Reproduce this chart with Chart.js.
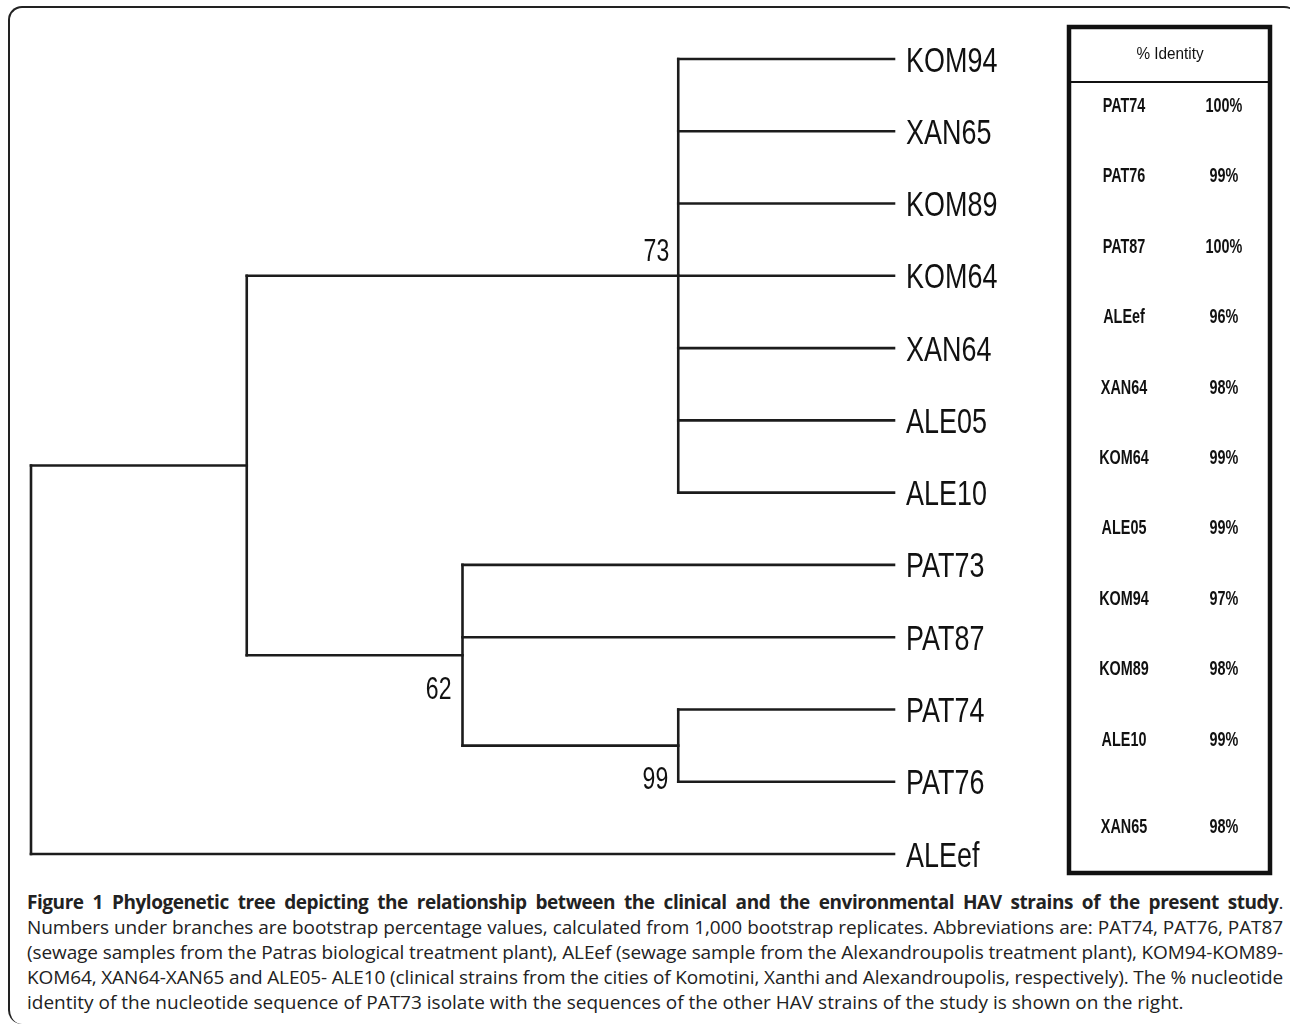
<!DOCTYPE html>
<html>
<head>
<meta charset="utf-8">
<script src="https://cdn.jsdelivr.net/npm/chart.js@4/dist/chart.umd.min.js"></script>
<style>
  body { margin: 0; background: #fff; width: 1290px; height: 1028px; overflow: hidden; position: relative; }
  #frame { position: absolute; left: 8px; top: 6px; width: 1290px; height: 1018px; border-top: 2px solid #222; border-left: 2px solid #222; border-radius: 14px; box-sizing: border-box; }
  #tree { position: absolute; left: 0; top: 0; }
  #caption { position: absolute; left: 27px; top: 890px; width: 1256px; font-family: "Open Sans", sans-serif; font-size: 19px; line-height: 25px; color: #222; }
  #caption div { text-align: justify; text-align-last: justify; white-space: nowrap; }
  #caption div.first { letter-spacing: -0.45px; }
  #caption div.tight { word-spacing: -3px; letter-spacing: -0.1px; }
  #caption div.last { text-align-last: left; }
</style>
</head>
<body>
<div id="frame"></div>
<canvas id="tree" width="1290" height="880"></canvas>
<div id="caption">
  <div class="first"><b>Figure 1 Phylogenetic tree depicting the relationship between the clinical and the environmental HAV strains of the present study</b>.</div>
  <div class="tight">Numbers under branches are bootstrap percentage values, calculated from 1,000 bootstrap replicates. Abbreviations are: PAT74, PAT76, PAT87</div>
  <div class="tight">(sewage samples from the Patras biological treatment plant), ALEef (sewage sample from the Alexandroupolis treatment plant), KOM94-KOM89-</div>
  <div class="tight">KOM64, XAN64-XAN65 and ALE05- ALE10 (clinical strains from the cities of Komotini, Xanthi and Alexandroupolis, respectively). The % nucleotide</div>
  <div class="last">identity of the nucleotide sequence of PAT73 isolate with the sequences of the other HAV strains of the study is shown on the right.</div>
</div>
<script>
// leaves, top to bottom
const leaves = ['KOM94', 'XAN65', 'KOM89', 'KOM64', 'XAN64', 'ALE05', 'ALE10', 'PAT73', 'PAT87', 'PAT74', 'PAT76', 'ALEef'];
const leafParent = ['B', 'B', 'B', 'B', 'B', 'B', 'B', 'C', 'C', 'D', 'D', 'root'];
const leafDepth = 100;

// internal nodes
const nodes = ['root', 'A', 'B', 'C', 'D'];
const nodeDepth = [0, 25, 75, 50, 75];
const nodeParent = [null, 'root', 'A', 'A', 'C'];

// bootstrap values
const bootNodes = ['B', 'C', 'D'];
const bootValues = [73, 62, 99];

// % identity table
const identityStrains = ['PAT74', 'PAT76', 'PAT87', 'ALEef', 'XAN64', 'KOM64', 'ALE05', 'KOM94', 'KOM89', 'ALE10', 'XAN65'];
const identityValues = [100, 99, 100, 96, 98, 99, 99, 97, 98, 99, 98];

// layout only
const bootOffset = [{ dx: -9, dy: -15 }, { dx: -11, dy: 44 }, { dx: -10, dy: 7 }];
const LINE = '#1c1c1c';

// work out node y positions (midpoint of children)
const nodeY = {};
const depthOf = {};
nodes.forEach((n, i) => depthOf[n] = nodeDepth[i]);
function childYs(n) {
  const ys = [];
  leaves.forEach((l, i) => { if (leafParent[i] === n) ys.push(i); });
  nodes.forEach((m, i) => { if (nodeParent[i] === n) ys.push(yOf(m)); });
  return ys;
}
function yOf(n) {
  if (nodeY[n] === undefined) {
    const ys = childYs(n);
    nodeY[n] = (Math.min(...ys) + Math.max(...ys)) / 2;
  }
  return nodeY[n];
}

const segments = [];
leaves.forEach((l, i) => {
  segments.push([{ x: depthOf[leafParent[i]], y: i }, { x: leafDepth, y: i }]);
});
nodes.forEach((n, i) => {
  const ys = childYs(n);
  segments.push([{ x: nodeDepth[i], y: Math.min(...ys) }, { x: nodeDepth[i], y: Math.max(...ys) }]);
  if (nodeParent[i]) {
    segments.push([{ x: depthOf[nodeParent[i]], y: yOf(n) }, { x: nodeDepth[i], y: yOf(n) }]);
  }
});

function narrowText(ctx, text, x, y, font, sx, align) {
  ctx.save();
  ctx.font = font;
  ctx.textAlign = align;
  ctx.textBaseline = 'alphabetic';
  ctx.translate(x, y);
  ctx.scale(sx, 1);
  ctx.fillText(text, 0, 0);
  ctx.restore();
}

const treeLabels = {
  id: 'treeLabels',
  afterDraw(chart) {
    const ctx = chart.ctx;
    const xs = chart.scales.x, ys = chart.scales.y;
    ctx.fillStyle = '#111';
    leaves.forEach((l, i) => {
      narrowText(ctx, l, xs.getPixelForValue(leafDepth) + 12, ys.getPixelForValue(i) + 12.5,
        '35px "Liberation Sans"', 0.77, 'left');
    });
    bootNodes.forEach((n, i) => {
      const px = xs.getPixelForValue(depthOf[n]) + bootOffset[i].dx;
      let py = ys.getPixelForValue(yOf(n));
      if (n === 'D') py = ys.getPixelForValue(Math.max(...childYs(n)));
      narrowText(ctx, String(bootValues[i]), px, py + bootOffset[i].dy,
        '32px "Liberation Sans"', 0.72, 'right');
    });

    // identity table
    ctx.save();
    ctx.strokeStyle = '#111';
    ctx.lineWidth = 4.5;
    ctx.strokeRect(1069, 27, 201, 846);
    ctx.lineWidth = 2;
    ctx.beginPath();
    ctx.moveTo(1069, 82);
    ctx.lineTo(1270, 82);
    ctx.stroke();
    ctx.restore();
    narrowText(ctx, '% Identity', 1170, 59, '17px "Liberation Sans"', 0.9, 'center');
    identityStrains.forEach((s, i) => {
      const y = 105 + i * 70.4 + (i === identityStrains.length - 1 ? 17 : 0) + 7;
      narrowText(ctx, s, 1124, y, 'bold 20px "Liberation Sans"', 0.72, 'center');
      narrowText(ctx, identityValues[i] + '%', 1224, y, 'bold 20px "Liberation Sans"', 0.72, 'center');
    });
  }
};

new Chart(document.getElementById('tree'), {
  type: 'scatter',
  data: {
    datasets: segments.map(seg => ({
      data: seg,
      showLine: true,
      borderColor: LINE,
      borderWidth: 2.6,
      borderCapStyle: 'square',
      pointRadius: 0,
      clip: false
    }))
  },
  options: {
    responsive: false,
    animation: false,
    devicePixelRatio: 1,
    layout: { padding: { left: 31, right: 396, top: 59, bottom: 26 } },
    scales: {
      x: { type: 'linear', min: 0, max: 100, display: false },
      y: { type: 'linear', min: 0, max: 11, reverse: true, display: false }
    },
    plugins: { legend: { display: false }, tooltip: { enabled: false } }
  },
  plugins: [treeLabels]
});
</script>
</body>
</html>
